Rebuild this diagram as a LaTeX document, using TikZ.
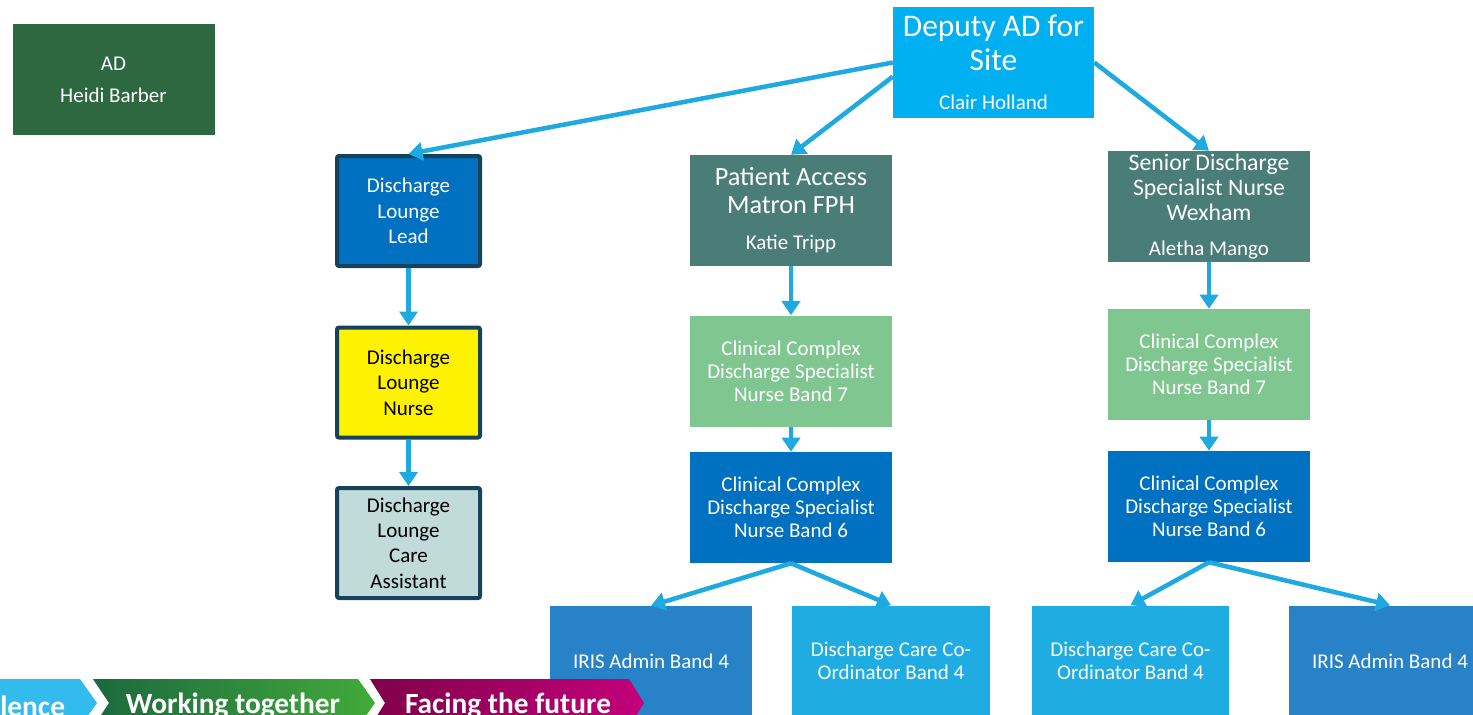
\documentclass[tikz,border=0pt]{standalone}
\usepackage{fontspec}
\setmainfont{Carlito}
\usetikzlibrary{arrows.meta,positioning}
\definecolor{adGreen}{RGB}{46,104,64}
\definecolor{siteBlue}{RGB}{0,176,240}
\definecolor{leadBlue}{RGB}{0,112,192}
\definecolor{loungeEdge}{RGB}{22,67,90}
\definecolor{loungeGrey}{RGB}{192,219,218}
\definecolor{matronTeal}{RGB}{74,124,120}
\definecolor{bandGreen}{RGB}{128,198,145}
\definecolor{irisBlue}{RGB}{40,130,200}
\definecolor{coordBlue}{RGB}{30,172,226}
\definecolor{arrowBlue}{RGB}{30,170,225}
\definecolor{valueBlue}{RGB}{51,187,238}
\definecolor{togetherDark}{RGB}{28,105,62}
\definecolor{togetherLight}{RGB}{66,170,58}
\definecolor{futureDark}{RGB}{128,0,75}
\definecolor{futureLight}{RGB}{195,0,122}
\newcommand{\sitefont}{\fontsize{23.6}{25.5}\selectfont}
\newcommand{\headfont}{\fontsize{19.7}{21}\selectfont}
\newcommand{\seniorfont}{\fontsize{17.8}{18.8}\selectfont}
\newcommand{\namefont}{\fontsize{15.75}{19}\selectfont}

\begin{document}
\begin{tikzpicture}[x=0.75pt, y=-0.75pt,
    orgbox/.style={rectangle, minimum width=151.5pt, minimum height=83.25pt,
                   inner sep=2pt, align=center, text=white,
                   font=\fontsize{15.75}{19}\selectfont},
    bandbox/.style={orgbox, font=\fontsize{15.75}{17.25}\selectfont},
    loungebox/.style={rectangle, draw=loungeEdge, line width=3pt, rounded corners=1.5pt,
                      minimum width=107.25pt, minimum height=82.5pt, inner sep=2pt,
                      align=center, text=white, font=\fontsize{15.75}{19}\selectfont},
    link/.style={draw=arrowBlue, line width=3.4pt,
                 -{Triangle[length=10.5pt, width=13.5pt]}},
    value/.style={text=white, font=\fontsize{22}{24}\selectfont\bfseries}
  ]
  \fill[white] (0,0) rectangle (1473,714);
  \useasboundingbox (0,0) rectangle (1473,714);

  % top level
  \node[orgbox, fill=adGreen] (ad) at (113.5,79.5) {AD\\[5pt]Heidi Barber};
  \node[orgbox, fill=siteBlue, minimum width=150.75pt] (site) at (993.5,62.5)
    {\sitefont Deputy AD for\\[4.5pt]\sitefont Site\\[10.5pt]\namefont Clair Holland};

  % discharge lounge
  \node[loungebox, fill=leadBlue] (lead) at (408.5,211) {Discharge\\Lounge\\Lead};
  \node[loungebox, fill=yellow, text=black] (nurse) at (408.5,382.5) {Discharge\\Lounge\\Nurse};
  \node[loungebox, fill=loungeGrey, text=black] (carer) at (408.5,543)
    {Discharge\\Lounge\\Care\\Assistant};

  % FPH
  \node[orgbox, fill=matronTeal] (matron) at (791,210.5)
    {\headfont Patient Access\\[1.5pt]\headfont Matron FPH\\[8.5pt]\namefont Katie Tripp};
  \node[bandbox, fill=bandGreen] (fphseven) at (791,371)
    {Clinical Complex\\Discharge Specialist\\Nurse Band 7};
  \node[bandbox, fill=leadBlue] (fphsix) at (791,507.5)
    {Clinical Complex\\Discharge Specialist\\Nurse Band 6};
  \node[orgbox, fill=irisBlue] (fphiris) at (651,661.5) {IRIS Admin Band 4};
  \node[bandbox, fill=coordBlue, minimum width=148.5pt] (fphcoord) at (891,661)
    {Discharge Care Co-\\Ordinator Band 4};

  % Wexham
  \node[orgbox, fill=matronTeal] (senior) at (1209,206.5)
    {\seniorfont Senior Discharge\\\seniorfont Specialist Nurse\\\seniorfont Wexham\\[7pt]\namefont Aletha Mango};
  \node[bandbox, fill=bandGreen] (wexseven) at (1209,364.5)
    {Clinical Complex\\Discharge Specialist\\Nurse Band 7};
  \node[bandbox, fill=leadBlue] (wexsix) at (1209,506.5)
    {Clinical Complex\\Discharge Specialist\\Nurse Band 6};
  \node[bandbox, fill=coordBlue, minimum width=147.75pt] (wexcoord) at (1130.5,661)
    {Discharge Care Co-\\Ordinator Band 4};
  \node[orgbox, fill=irisBlue] (wexiris) at (1390,661) {IRIS Admin Band 4};

  % connectors
  \draw[link] (site.west) -- (lead.north);
  \draw[link] (site.188) -- (matron.north);
  \draw[link] (site.east) -- (senior.north);
  \draw[link] (lead.south) -- (nurse.north);
  \draw[link] (nurse.south) -- (carer.north);
  \draw[link] (matron.south) -- (fphseven.north);
  \draw[link] (fphseven.south) -- (fphsix.north);
  \draw[link] (fphsix.south) -- (fphiris.north);
  \draw[link] (fphsix.south) -- (fphcoord.north);
  \draw[link] (senior.south) -- (wexseven.north);
  \draw[link] (wexseven.south) -- (wexsix.north);
  \draw[link] (wexsix.south) -- (wexcoord.north);
  \draw[link] (wexsix.south) -- (wexiris.north);

  % values banner
  \fill[valueBlue] (-5,679) -- (80,679) -- (97,703) -- (80,727) -- (-5,727) -- cycle;
  \shade[left color=togetherDark, right color=togetherLight]
    (93,679) -- (358,679) -- (375,703) -- (358,727) -- (93,727) -- (109,703) -- cycle;
  \shade[left color=futureDark, right color=futureLight]
    (370,679) -- (629,679) -- (644,703) -- (629,727) -- (370,727) -- (385,703) -- cycle;
  \node[value, anchor=west, inner sep=0pt] (excellence) at (0,706) {lence};
  \node[value] (together) at (233,706) {Working together};
  \node[value] (future) at (508,706) {Facing the future};
\end{tikzpicture}
\end{document}
